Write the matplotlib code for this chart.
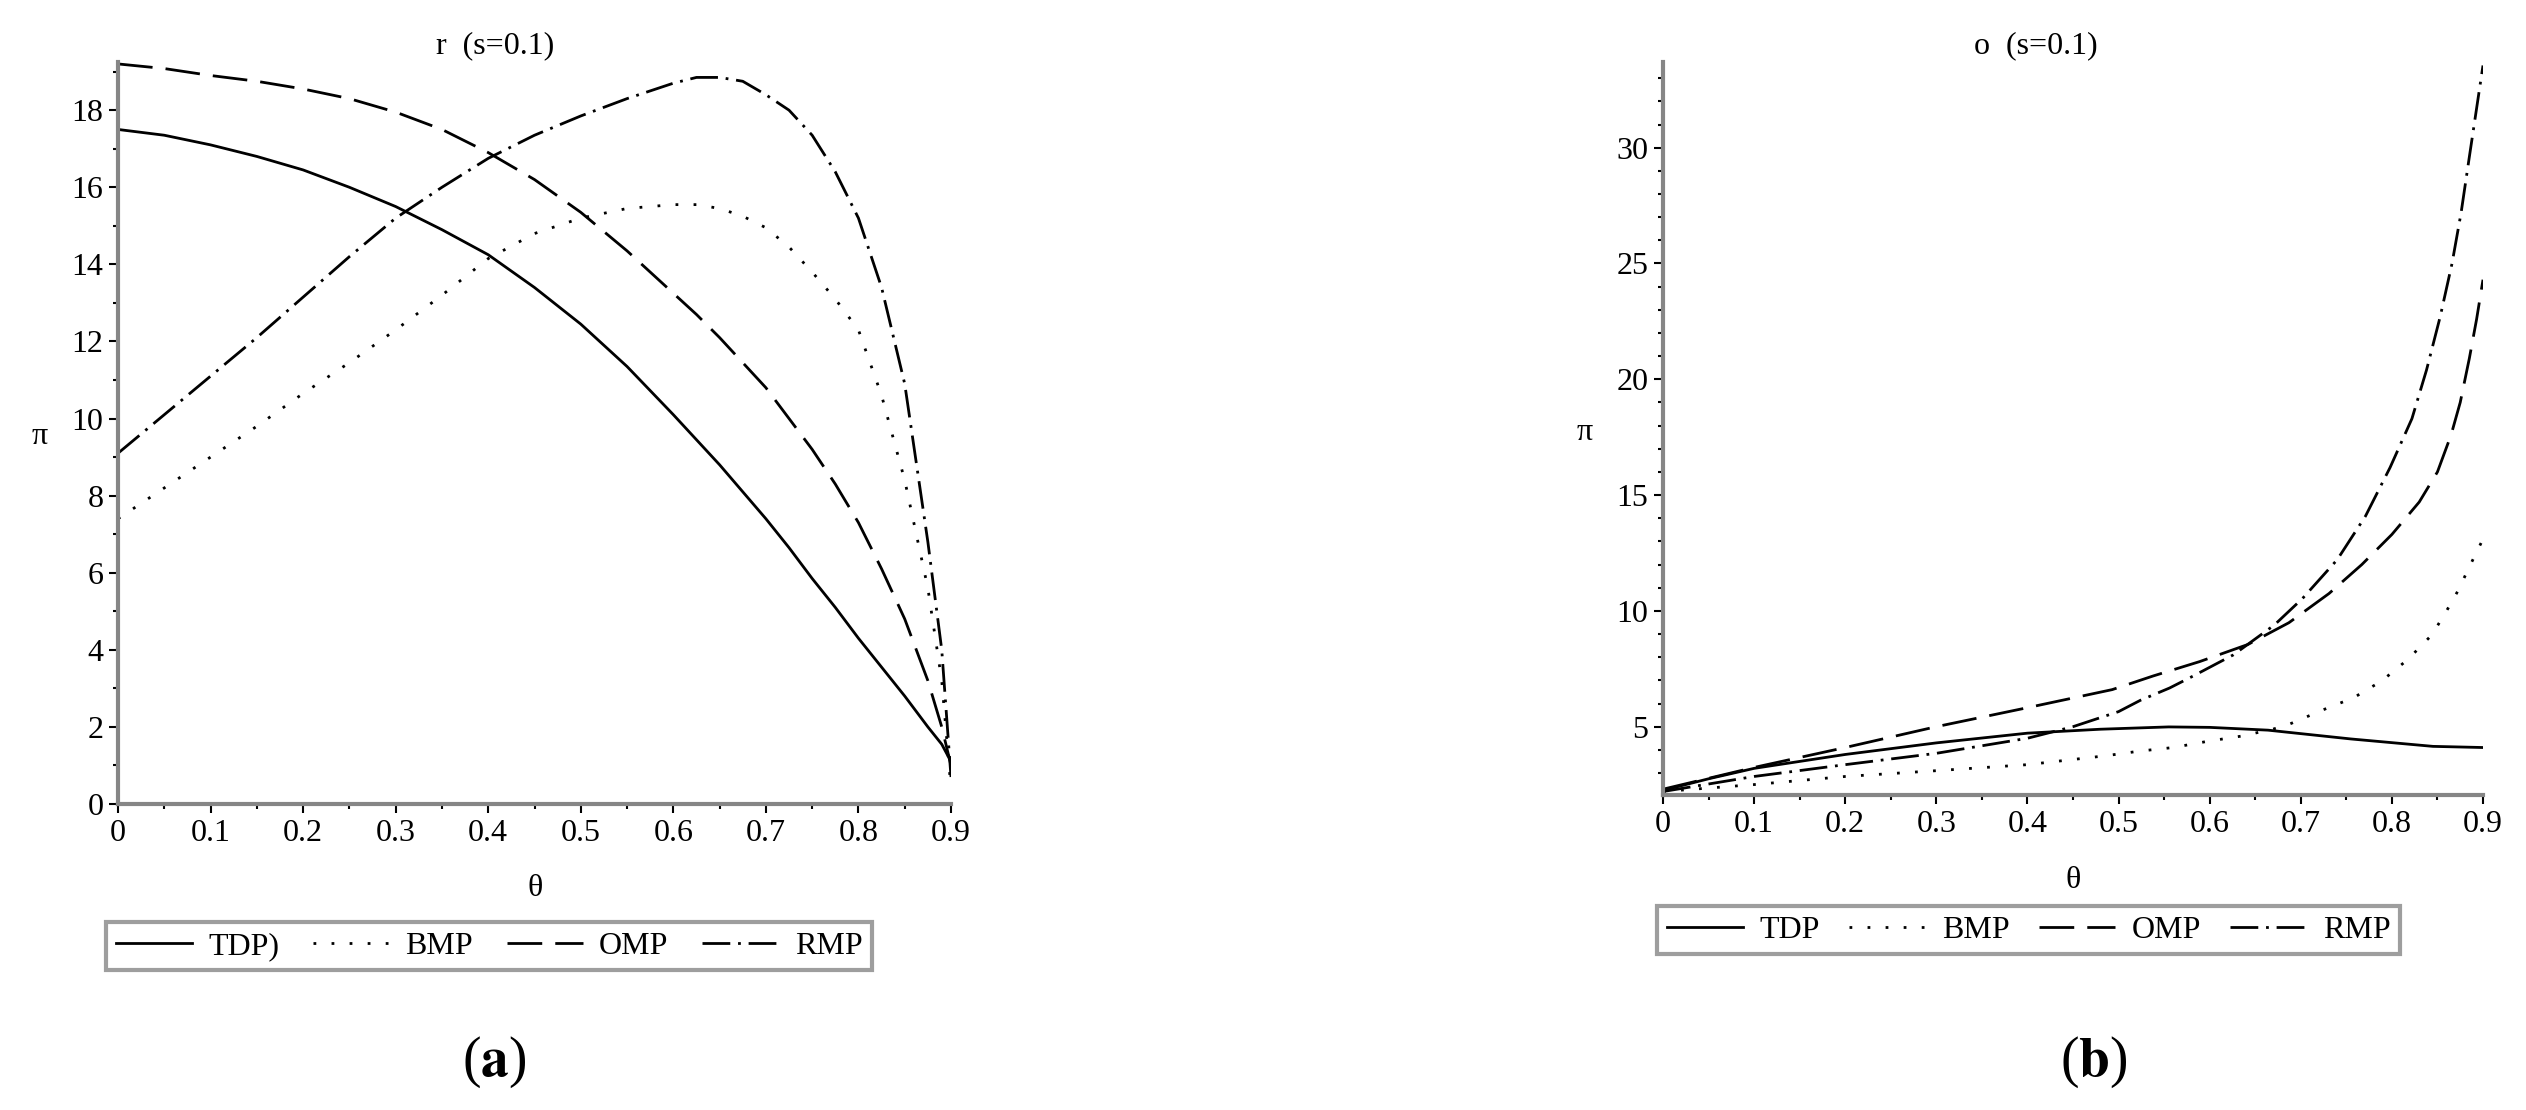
import matplotlib
matplotlib.use("Agg")
import matplotlib.pyplot as plt
from matplotlib.ticker import MultipleLocator

plt.rcParams['font.family'] = ['Liberation Serif', 'DejaVu Serif']
plt.rcParams['mathtext.fontset'] = 'stix'

W, H = 2526, 1110

# theta ticks shared by both panels
theta_ticks = [0, 0.1, 0.2, 0.3, 0.4, 0.5, 0.6, 0.7, 0.8, 0.9]
theta_labels = ['0', '0.1', '0.2', '0.3', '0.4', '0.5', '0.6', '0.7', '0.8', '0.9']

# ---- panel (a): r (s=0.1) ----
a_x = [0, 0.05, 0.1, 0.15, 0.2, 0.25, 0.3, 0.35, 0.4, 0.45, 0.5, 0.55,
       0.6, 0.625, 0.65, 0.675, 0.7, 0.725, 0.75, 0.775, 0.8, 0.825, 0.85, 0.875, 0.89, 0.9]
a_tdp = [17.5, 17.35, 17.1, 16.8, 16.45, 16.0, 15.5, 14.9, 14.25, 13.4, 12.45, 11.35,
         10.1, 9.45, 8.8, 8.1, 7.4, 6.65, 5.85, 5.1, 4.3, 3.55, 2.8, 2.0, 1.55, 1.1]
a_bmp = [7.4, 8.2, 9.0, 9.8, 10.65, 11.45, 12.3, 13.2, 14.15, 14.8, 15.2, 15.45,
         15.55, 15.55, 15.45, 15.25, 14.95, 14.45, 13.8, 13.1, 12.3, 10.6, 8.4, 5.6, 3.2, 0.4]
a_omp = [19.2, 19.08, 18.9, 18.75, 18.55, 18.3, 17.95, 17.5, 16.9, 16.2, 15.35, 14.35,
         13.25, 12.7, 12.1, 11.45, 10.8, 10.0, 9.2, 8.3, 7.3, 6.1, 4.8, 3.2, 2.0, 1.0]
a_rmp = [9.1, 10.1, 11.1, 12.1, 13.15, 14.2, 15.2, 16.0, 16.75, 17.35, 17.85, 18.3,
         18.7, 18.85, 18.85, 18.75, 18.4, 18.0, 17.35, 16.4, 15.2, 13.4, 10.9, 6.8, 4.0, 0.7]

# ---- panel (b): o (s=0.1) ----
b_tdp_x = [0, 0.05, 0.1, 0.2, 0.3, 0.4, 0.48, 0.555, 0.6, 0.664, 0.755, 0.845, 0.9]
b_tdp = [2.25, 2.75, 3.2, 3.8, 4.3, 4.72, 4.89, 4.99, 4.97, 4.85, 4.47, 4.15, 4.1]
b_bmp_x = [0, 0.1, 0.2, 0.3, 0.4, 0.485, 0.524, 0.56, 0.598, 0.636, 0.67, 0.687,
           0.724, 0.758, 0.789, 0.818, 0.844, 0.86, 0.873, 0.885, 0.9]
b_bmp = [2.2, 2.5, 2.85, 3.1, 3.36, 3.74, 3.95, 4.1, 4.37, 4.6, 4.9, 5.1,
         5.72, 6.25, 6.98, 7.92, 8.97, 10.0, 10.9, 11.9, 13.1]
b_omp_x = [0, 0.1, 0.2, 0.3, 0.4, 0.493, 0.538, 0.589, 0.642, 0.687, 0.731, 0.767,
           0.8, 0.83, 0.85, 0.865, 0.875, 0.885, 0.893, 0.9]
b_omp = [2.3, 3.24, 4.1, 5.0, 5.82, 6.6, 7.19, 7.81, 8.55, 9.49, 10.75, 12.0,
         13.3, 14.7, 16.0, 17.6, 19.0, 20.9, 22.6, 24.3]
b_rmp_x = [0, 0.1, 0.2, 0.3, 0.4, 0.45, 0.5, 0.524, 0.556, 0.582, 0.609, 0.626,
           0.671, 0.702, 0.74, 0.771, 0.798, 0.822, 0.838, 0.853, 0.866, 0.876, 0.885, 0.9]
b_rmp = [2.2, 2.85, 3.36, 3.85, 4.5, 5.0, 5.65, 6.14, 6.67, 7.19, 7.75, 8.1,
         9.39, 10.54, 12.21, 14.09, 16.19, 18.3, 20.4, 22.7, 25.0, 27.2, 29.6, 33.55]

styles = {
    'TDP': '-',
    'BMP': (0, (1, 5.5)),
    'OMP': (0, (12.5, 4.7)),
    'RMP': (0, (10, 2.8, 1, 2.8)),
}
LW = 2.0
GREY = '#868686'
FS = 23


def style_axis(ax, ymax, ymin, ymajor):
    for s in ['top', 'right']:
        ax.spines[s].set_visible(False)
    for s in ['left', 'bottom']:
        ax.spines[s].set_color(GREY)
        ax.spines[s].set_linewidth(3)
    ax.set_xlim(0, 0.9)
    ax.set_ylim(ymin, ymax)
    ax.set_xticks(theta_ticks)
    ax.set_xticklabels(theta_labels)
    ax.xaxis.set_minor_locator(MultipleLocator(0.05))
    ax.yaxis.set_major_locator(MultipleLocator(ymajor))
    ax.yaxis.set_minor_locator(MultipleLocator(1))
    ax.tick_params(which='major', direction='out', length=6.5, width=1.5,
                   color='black', labelsize=FS, pad=4)
    ax.tick_params(which='minor', direction='out', length=3.5, width=1.5, color='black')
    ax.set_facecolor('none')


fig = plt.figure(figsize=(W / 100, H / 100), dpi=100)

# left panel
ax1 = fig.add_axes([118 / W, 1 - 804 / H, 833 / W, (804 - 62) / H])
ax1.plot(a_x, a_tdp, color='black', lw=LW, ls=styles['TDP'], label='TDP)')
ax1.plot(a_x, a_bmp, color='black', lw=LW, ls=styles['BMP'], label='BMP')
ax1.plot(a_x, a_omp, color='black', lw=LW, ls=styles['OMP'], label='OMP')
ax1.plot(a_x, a_rmp, color='black', lw=LW, ls=styles['RMP'], label='RMP')
style_axis(ax1, 19.25, 0, 2)

# right panel
ax2 = fig.add_axes([1663 / W, 1 - 795 / H, 820 / W, (795 - 62) / H])
ax2.plot(b_tdp_x, b_tdp, color='black', lw=LW, ls=styles['TDP'], label='TDP')
ax2.plot(b_bmp_x, b_bmp, color='black', lw=LW, ls=styles['BMP'], label='BMP')
ax2.plot(b_omp_x, b_omp, color='black', lw=LW, ls=styles['OMP'], label='OMP')
ax2.plot(b_rmp_x, b_rmp, color='black', lw=LW, ls=styles['RMP'], label='RMP')
style_axis(ax2, 33.7, 2.05, 5)

# titles, axis labels
fig.text(495 / W, 1 - 46 / H, 'r  (s=0.1)', ha='center', va='center', fontsize=FS)
fig.text(2036 / W, 1 - 46 / H, 'o  (s=0.1)', ha='center', va='center', fontsize=FS)
fig.text(40 / W, 1 - 437 / H, 'π', ha='center', va='center', fontsize=FS)
fig.text(1585 / W, 1 - 433 / H, 'π', ha='center', va='center', fontsize=FS)
fig.text(535 / W, 1 - 888 / H, 'θ', ha='center', va='center', fontsize=FS)
fig.text(2073 / W, 1 - 880 / H, 'θ', ha='center', va='center', fontsize=FS)

# legends
for ax, x0, x1, top in [(ax1, 106, 872, 923), (ax2, 1657, 2400, 907)]:
    leg = ax.legend(loc='upper left', ncol=4, mode='expand',
                    bbox_to_anchor=(x0 / W, 1 - top / H, (x1 - x0) / W, 0.001),
                    bbox_transform=fig.transFigure, borderaxespad=0,
                    fontsize=FS, frameon=True, fancybox=False,
                    handlelength=2.4, handletextpad=0.5, columnspacing=0.4,
                    borderpad=0.3)
    leg.get_frame().set_edgecolor(GREY)
    leg.get_frame().set_linewidth(3)

# panel letters
fig.text(494 / W, 1 - 1062 / H, r'($\mathbf{a}$)', ha='center', va='center', fontsize=40)
fig.text(2094 / W, 1 - 1062 / H, r'($\mathbf{b}$)', ha='center', va='center', fontsize=40)

fig.savefig('out.png', dpi=100)
